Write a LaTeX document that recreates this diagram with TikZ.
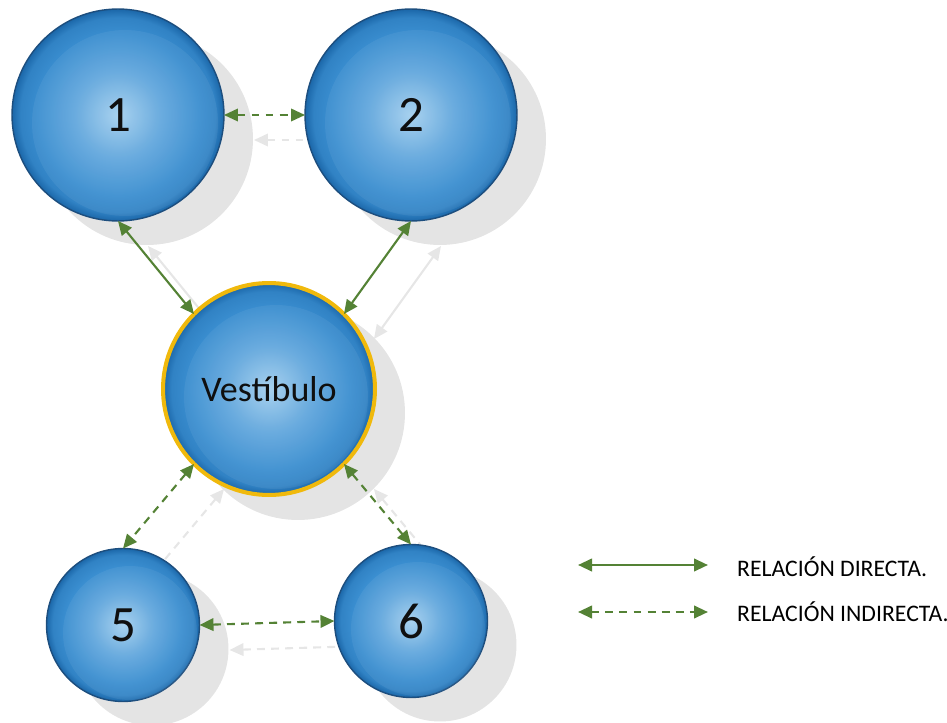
\documentclass[tikz,border=0pt]{standalone}
\usepackage{fontspec}
\setmainfont{Carlito}
\usepackage{xcolor}
\usepackage{tikz}
\usetikzlibrary{arrows.meta,calc,backgrounds}

\definecolor{ballcenter}{HTML}{A3CFEE}
\definecolor{ballmid}{HTML}{62A7DD}
\definecolor{ballouter}{HTML}{3A8ED0}
\definecolor{balledge}{HTML}{1B67A9}
\definecolor{ballborder}{HTML}{1D4E7E}
\definecolor{vestborder}{HTML}{F0B90C}
\definecolor{relgreen}{HTML}{548235}
\definecolor{shadowgray}{HTML}{E4E4E4}
\definecolor{ghostgray}{HTML}{E6E6E6}

\pgfdeclareradialshading{ballshade}{\pgfpoint{0bp}{0bp}}{color(0bp)=(ballcenter); color(10bp)=(ballmid); color(19bp)=(ballouter); color(23bp)=(ballouter!70!balledge); color(25bp)=(balledge); color(50bp)=(balledge)}

\begin{document}
\begin{tikzpicture}[x=0.02cm, y=-0.02cm,
    ball/.style={circle, draw=ballborder, line width=0.8pt, shading=ballshade,
      minimum size=3.06cm, inner sep=0pt, outer sep=0pt,
      font=\fontsize{29}{31}\selectfont},
    bigball/.style={ball, minimum size=4.24cm},
    direct/.style={relgreen, line width=1.2pt,
      {Triangle[length=2.8mm,width=2.5mm]}-{Triangle[length=2.8mm,width=2.5mm]}},
    indirect/.style={direct, dash pattern=on 4.5pt off 3.5pt},
    ghost/.style={ghostgray},
    legend/.style={anchor=west, font=\fontsize{13.5}{15}\selectfont}]
  \useasboundingbox (0,0) rectangle (947,723);
  % rooms
  \node[bigball] (n1) at (118,115) {1};
  \node[bigball] (n2) at (411,115) {2};
  \node[bigball, draw=vestborder, line width=2.3pt,
    font=\fontsize{20.5}{22}\selectfont] (vest) at (269,389) {Vestíbulo};
  \node[ball] (n5) at (123,625) {5};
  \node[ball] (n6) at (411,621) {6};
  % glass sheen
  \foreach \n/\r in {n1/1.86cm, n2/1.86cm, vest/1.84cm, n5/1.34cm, n6/1.34cm}
    \fill[white, opacity=0.06] ($(\n)+(7,8)$) circle (\r);
  % shadows
  \begin{scope}[on background layer]
    \foreach \n/\r in {n1/2.12cm, n2/2.12cm, vest/2.14cm, n5/1.53cm, n6/1.53cm}
      \fill[shadowgray] ($(\n)+(29,24)$) circle (\r);
    \draw[indirect, ghost] ($(n1.east)+(30,25)$) -- ($(n2.west)+(30,25)$);
    \draw[direct, ghost] ($(n1.south)+(30,25)$) -- ($(vest.135)+(30,25)$);
    \draw[direct, ghost] ($(n2.south)+(30,25)$) -- ($(vest.45)+(30,25)$);
    \draw[indirect, ghost] ($(vest.225)+(30,25)$) -- ($(n5.north)+(30,25)$);
    \draw[indirect, ghost] ($(vest.-45)+(30,25)$) -- ($(n6.north)+(30,25)$);
    \draw[indirect, ghost] ($(n5.east)+(30,25)$) -- ($(n6.west)+(30,25)$);
  \end{scope}
  % relations
  \draw[indirect] (n1.east) -- (n2.west);
  \draw[direct] (n1.south) -- (vest.135);
  \draw[direct] (n2.south) -- (vest.45);
  \draw[indirect] (vest.225) -- (n5.north);
  \draw[indirect] (vest.-45) -- (n6.north);
  \draw[indirect] (n5.east) -- (n6.west);
  % legend
  \node[legend] (ldir) at (731,567) {RELACIÓN DIRECTA.};
  \node[legend] (lind) at (731,612) {RELACIÓN INDIRECTA.};
  \coordinate (da) at (578,565);
  \coordinate (db) at (708,565);
  \coordinate (ia) at (578,612);
  \coordinate (ib) at (708,612);
  \draw[direct, line width=1.4pt] (da) -- (db);
  \draw[indirect, line width=1.4pt] (ia) -- (ib);
\end{tikzpicture}
\end{document}
